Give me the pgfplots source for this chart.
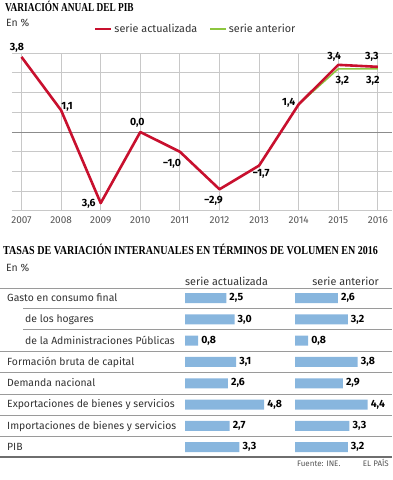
\documentclass[border=0pt]{standalone}
\usepackage{pgfplots}
\pgfplotsset{compat=1.18}
\usepackage{fontspec}
\setmainfont{Fira Sans}
\newfontfamily\titlefont[FakeStretch=0.77]{Liberation Serif}
\newfontfamily\titlefontb[FakeStretch=0.83]{Liberation Serif}
\definecolor{lred}{HTML}{C8102E}
\definecolor{lgreen}{HTML}{8DC63F}
\definecolor{barblue}{HTML}{88B6DE}
\definecolor{gridc}{HTML}{C8C8C8}
\definecolor{zeroc}{HTML}{8C8C8C}
\definecolor{txt}{HTML}{333333}
\definecolor{ticktxt}{HTML}{555555}
\definecolor{sepc}{HTML}{9A9A9A}
\definecolor{botc}{HTML}{6E6E6E}
\begin{document}
\begin{tikzpicture}
\useasboundingbox (0pt,0pt) rectangle (392pt,480pt);
% ---- titles
\node[anchor=base west, inner sep=0] at (5pt,468pt) {\fontsize{12.1}{12}\titlefont\bfseries VARIACIÓN ANUAL DEL PIB};
\node[anchor=base west, inner sep=0, text=txt] at (6pt,453pt) {\fontsize{10.5}{11}\selectfont En \%};
% ---- line chart
\begin{axis}[at={(12pt,269pt)}, anchor=south west, scale only axis,
  width=380pt, height=158pt,
  xmin=-0.24, xmax=9.356, ymin=-4, ymax=4,
  axis x line=none, axis y line=none,
  clip=false,
  legend style={at={(axis description cs:0.215,1.152)}, anchor=west, draw=none, fill=none,
    inner sep=0pt, legend columns=2, font=\fontsize{10.8}{11}\selectfont, text=txt,
    /tikz/every even column/.append style={column sep=10pt}},
  legend image code/.code={\draw[#1] (0pt,0pt) -- (16pt,0pt);},
  reverse legend,
]
\draw[gridc, line width=1pt] (axis cs:0,-4) -- (axis cs:0,4);
\draw[gridc, line width=1pt] (axis cs:1,-4) -- (axis cs:1,4);
\draw[gridc, line width=1pt] (axis cs:2,-4) -- (axis cs:2,4);
\draw[gridc, line width=1pt] (axis cs:3,-4) -- (axis cs:3,4);
\draw[gridc, line width=1pt] (axis cs:4,-4) -- (axis cs:4,4);
\draw[gridc, line width=1pt] (axis cs:5,-4) -- (axis cs:5,4);
\draw[gridc, line width=1pt] (axis cs:6,-4) -- (axis cs:6,4);
\draw[gridc, line width=1pt] (axis cs:7,-4) -- (axis cs:7,4);
\draw[gridc, line width=1pt] (axis cs:8,-4) -- (axis cs:8,4);
\draw[gridc, line width=1pt] (axis cs:9,-4) -- (axis cs:9,4);
\draw[gridc, line width=1pt] (axis cs:-0.24,-4) -- (axis cs:9.356,-4);
\draw[gridc, line width=1pt] (axis cs:-0.24,-3) -- (axis cs:9.356,-3);
\draw[gridc, line width=1pt] (axis cs:-0.24,-2) -- (axis cs:9.356,-2);
\draw[gridc, line width=1pt] (axis cs:-0.24,-1) -- (axis cs:9.356,-1);
\draw[gridc, line width=1pt] (axis cs:-0.24,1) -- (axis cs:9.356,1);
\draw[gridc, line width=1pt] (axis cs:-0.24,2) -- (axis cs:9.356,2);
\draw[gridc, line width=1pt] (axis cs:-0.24,3) -- (axis cs:9.356,3);
\draw[gridc, line width=1pt] (axis cs:-0.24,4) -- (axis cs:9.356,4);
\draw[zeroc, line width=0.9pt] (axis cs:-0.24,0) -- (axis cs:9.356,0);
\pgfplotsinvokeforeach{0,...,9}{\node[text=ticktxt, font=\fontsize{10}{10}\selectfont, yshift=-9pt] at (axis cs:#1,-4) {\pgfmathparse{int(2007+#1)}\pgfmathresult};}
\addplot[lgreen, line width=1.5pt] coordinates {(7,1.4)(8,3.2)(9,3.2)};
\addlegendentry{serie anterior}
\addplot[lred, line width=2.6pt, line join=round] coordinates {(0,3.8)(1,1.1)(2,-3.6)(3,0.0)(4,-1.0)(5,-2.9)(6,-1.7)(7,1.4)(8,3.4)(9,3.3)};
\addlegendentry{serie actualizada}
\begin{scope}[every node/.style={font=\bfseries\fontsize{10.5}{11}\selectfont, text=black, inner sep=0pt}]
\node[xshift=-4.5pt, yshift=9pt] at (axis cs:0,3.8) {3,8};
\node[xshift=6pt, yshift=3pt] at (axis cs:1,1.1) {1,1};
\node[xshift=-12pt, yshift=-1pt] at (axis cs:2,-3.6) {3,6};
\node[xshift=-3pt, yshift=9pt] at (axis cs:3,0) {0,0};
\node[xshift=-8pt, yshift=-12pt] at (axis cs:4,-1) {−1,0};
\node[xshift=-6pt, yshift=-12pt] at (axis cs:5,-2.9) {−2,9};
\node[xshift=2pt, yshift=-8pt] at (axis cs:6,-1.7) {−1,7};
\node[xshift=-10pt, yshift=2pt] at (axis cs:7,1.4) {1,4};
\node[xshift=-4pt, yshift=8pt] at (axis cs:8,3.4) {3,4};
\node[xshift=-6pt, yshift=10pt] at (axis cs:9,3.3) {3,3};
\node[xshift=4pt, yshift=-12pt] at (axis cs:8,3.2) {3,2};
\node[xshift=-5pt, yshift=-12pt] at (axis cs:9,3.2) {3,2};
\end{scope}
\end{axis}
% ---- table section
\node[anchor=base west, inner sep=0] at (3pt,225pt) {\fontsize{12.1}{12}\titlefontb\bfseries TASAS DE VARIACIÓN INTERANUALES EN TÉRMINOS DE VOLUMEN EN 2016};
\node[anchor=base west, inner sep=0, text=txt] at (6pt,208pt) {\fontsize{10.5}{11}\selectfont En \%};
\node[anchor=base west, inner sep=0, text=txt] at (185pt,194pt) {\fontsize{10.8}{11}\selectfont serie actualizada};
\node[anchor=base east, inner sep=0, text=txt] at (379pt,194pt) {\fontsize{10.8}{11}\selectfont serie anterior};
% separators
\draw[sepc, line width=0.8pt] (0pt,192pt) -- (392pt,192pt);
\draw[sepc, line width=0.8pt] (23pt,172pt) -- (392pt,172pt);
\draw[sepc, line width=0.8pt] (23pt,151pt) -- (392pt,151pt);
\draw[sepc, line width=0.8pt] (0pt,129pt) -- (392pt,129pt);
\draw[sepc, line width=0.8pt] (0pt,108pt) -- (392pt,108pt);
\draw[sepc, line width=0.8pt] (0pt,86pt) -- (392pt,86pt);
\draw[sepc, line width=0.8pt] (0pt,65pt) -- (392pt,65pt);
\draw[sepc, line width=0.8pt] (0pt,44pt) -- (392pt,44pt);
\draw[botc, line width=1.8pt] (0pt,23pt) -- (392pt,23pt);
% row labels
\begin{scope}[every node/.style={anchor=base west, inner sep=0, text=txt, font=\fontsize{10.4}{11}\selectfont}]
\node at (7pt,178.5pt) {Gasto en consumo final};
\node at (25pt,157.2pt) {de los hogares};
\node at (25pt,135.9pt) {de la Administraciones Públicas};
\node at (7pt,114.6pt) {Formación bruta de capital};
\node at (7pt,93.3pt) {Demanda nacional};
\node at (7pt,72.0pt) {Exportaciones de bienes y servicios};
\node at (7pt,50.7pt) {Importaciones de bienes y servicios};
\node at (7pt,29.4pt) {PIB};
\end{scope}
% bars: serie actualizada
\begin{axis}[at={(185pt,22.2pt)}, anchor=south west, scale only axis,
  width=105pt, height=170.4pt, xmin=0, xmax=6.3636, ymin=0.5, ymax=8.5,
  y dir=reverse, hide axis, xbar, bar width=10pt, clip=false,
  nodes near coords,
  nodes near coords style={anchor=west, inner sep=0pt, xshift=3pt, text=black, font=\bfseries\fontsize{10.5}{11}\selectfont},
  /pgf/number format/.cd, fixed, fixed zerofill, precision=1, use comma, assume math mode=true]
\addplot[fill=barblue, draw=none] coordinates {(2.5,1)(3.0,2)(0.8,3)(3.1,4)(2.6,5)(4.8,6)(2.7,7)(3.3,8)};
\end{axis}
% bars: serie anterior
\begin{axis}[at={(295pt,22.2pt)}, anchor=south west, scale only axis,
  width=95pt, height=170.4pt, xmin=0, xmax=5.7576, ymin=0.5, ymax=8.5,
  y dir=reverse, hide axis, xbar, bar width=10pt, clip=false,
  nodes near coords,
  nodes near coords style={anchor=west, inner sep=0pt, xshift=3pt, text=black, font=\bfseries\fontsize{10.5}{11}\selectfont},
  /pgf/number format/.cd, fixed, fixed zerofill, precision=1, use comma, assume math mode=true]
\addplot[fill=barblue, draw=none] coordinates {(2.6,1)(3.2,2)(0.8,3)(3.8,4)(2.9,5)(4.4,6)(3.3,7)(3.2,8)};
\end{axis}
% footer
\node[anchor=base west, inner sep=0, text=ticktxt] at (297pt,13pt) {\fontsize{8}{8}\selectfont Fuente: INE.};
\node[anchor=base east, inner sep=0, text=ticktxt] at (389pt,13pt) {\fontsize{8}{8}\selectfont EL PAÍS};
\end{tikzpicture}
\end{document}
